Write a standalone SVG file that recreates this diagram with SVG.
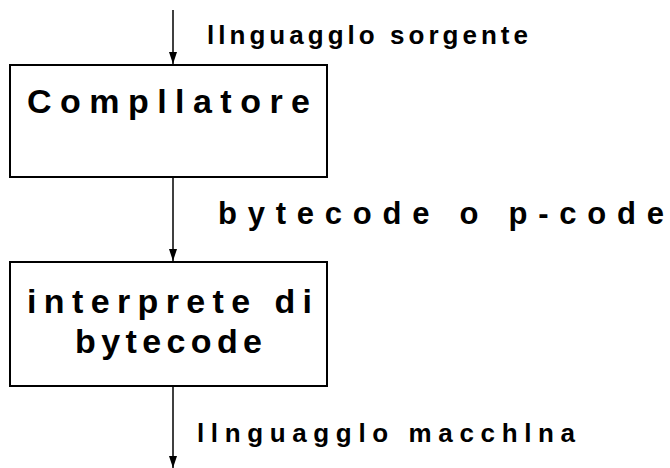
<svg xmlns="http://www.w3.org/2000/svg" width="670" height="468" viewBox="0 0 670 468">
<style>
.box{fill:#fff;stroke:#000;stroke-width:2}
.ln{stroke:#000;stroke-width:1.5;fill:none}
text{font-family:"Liberation Sans",Arial,sans-serif;font-weight:bold;fill:#000}
.big{font-size:34px}
.lbl{font-size:26px}
.mid{font-size:31px}
</style>
<defs>
<marker id="ah" markerWidth="12" markerHeight="8" refX="12" refY="4" orient="auto" markerUnits="userSpaceOnUse" viewBox="0 0 12 8">
<path d="M0,0 L12,4 L0,8 Z" fill="#000"/>
</marker>
</defs>
<rect width="670" height="468" fill="#fff"/>
<g id="connectors">
<line class="ln" x1="173" y1="10" x2="173" y2="64" marker-end="url(#ah)"/>
<line class="ln" x1="173" y1="177" x2="173" y2="261" marker-end="url(#ah)"/>
<line class="ln" x1="173" y1="387" x2="173" y2="468" marker-end="url(#ah)"/>
<text class="lbl" x="207" y="44" textLength="321" lengthAdjust="spacing">llnguagglo sorgente</text>
<text class="mid" x="218" y="224" textLength="446" lengthAdjust="spacing">bytecode o p-code</text>
<text class="lbl" x="197" y="442" textLength="378" lengthAdjust="spacing">llnguagglo macchlna</text>
</g>
<g id="compilatore">
<rect class="box" x="10" y="65" width="317" height="112"/>
<text class="big" x="27" y="113" textLength="283" lengthAdjust="spacing">Compllatore</text>
</g>
<g id="interprete">
<rect class="box" x="10" y="262" width="317" height="124"/>
<text class="big" x="27" y="313" textLength="285" lengthAdjust="spacing">interprete di</text>
<text class="big" x="75" y="353" textLength="187" lengthAdjust="spacing">bytecode</text>
</g>
</svg>
